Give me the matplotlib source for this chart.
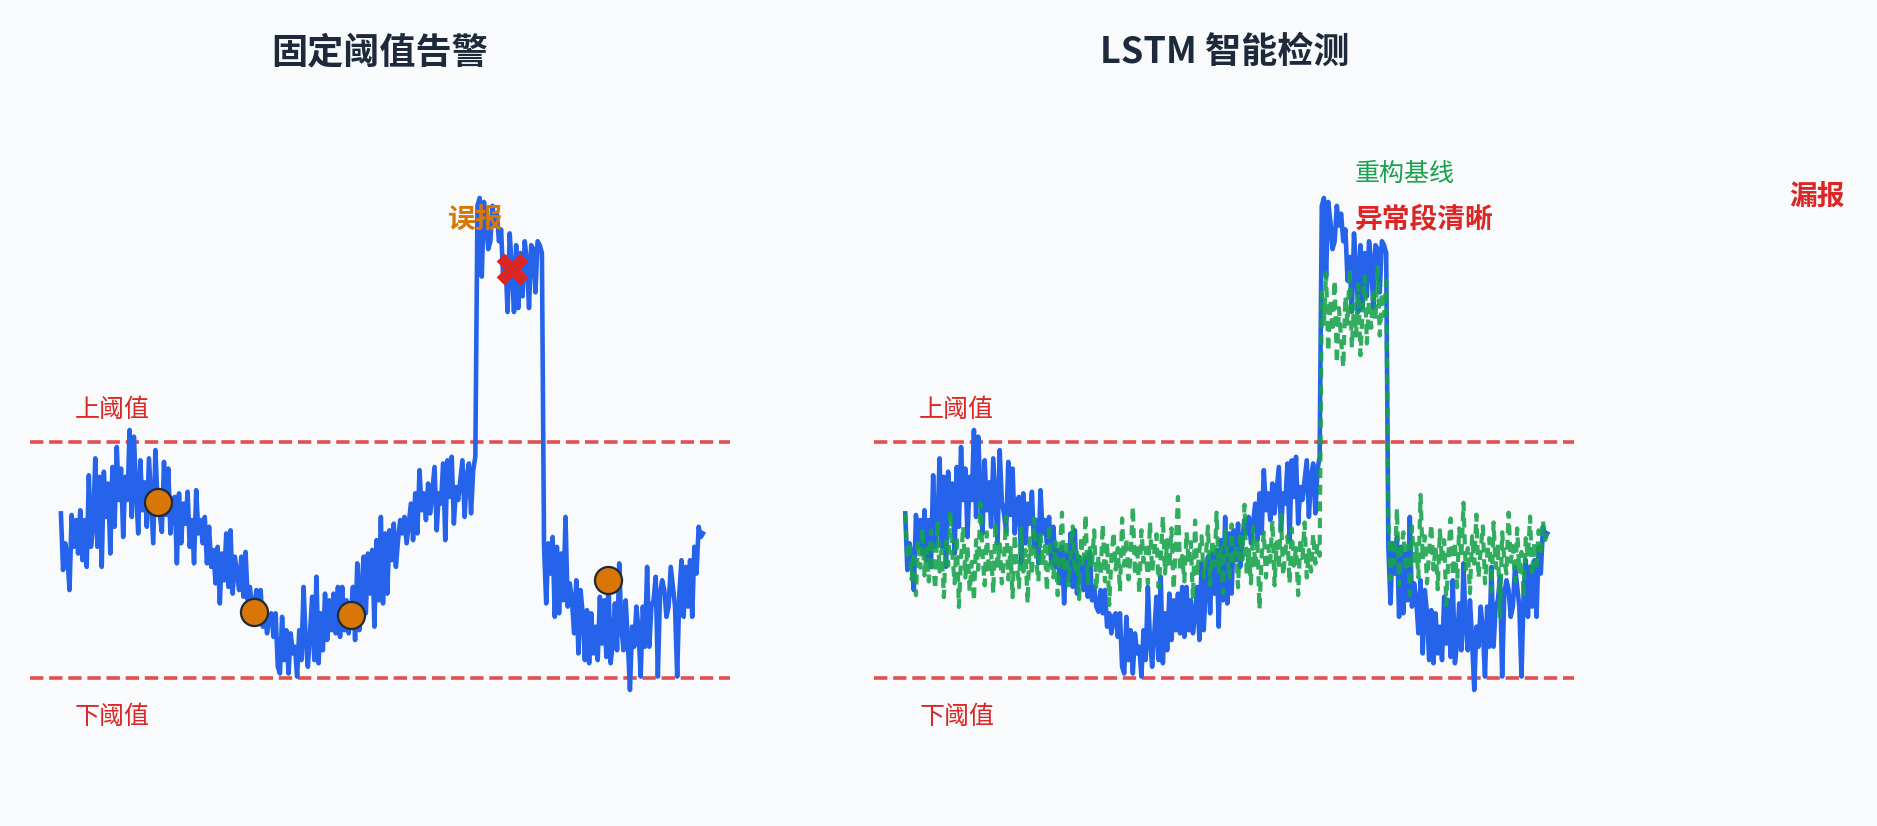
import numpy as np
import matplotlib
matplotlib.use('Agg')
import matplotlib.pyplot as plt

plt.rcParams['font.family'] = ['Noto Sans CJK SC', 'DejaVu Sans']

BG = '#f8fafc'
BLUE = '#2563eb'
GREEN = '#16a34a'
RED = '#dc2626'
ORANGE = '#d97706'
DARK = '#1e293b'

upper, lower = 80, 20

# observed metric (same series in both panels)
signal = np.array([
    61.8, 47.4, 54.2, 50.8, 42.3, 61.4, 53.3, 60.1, 51.6, 62.6,
    49.9, 60.1, 48.2, 71.5, 53.3, 58.4, 75.8, 53.3, 71.1, 48.2,
    72.4, 60.9, 69.4, 51.6, 73.6, 58.4, 78.7, 65.2, 73.2, 55.8,
    71.1, 65.2, 83.0, 60.9, 81.3, 67.7, 56.7, 75.3, 62.6, 69.7,
    58.4, 75.8, 65.2, 54.2, 77.9, 64.7, 61.8, 57.1, 74.9, 61.4,
    73.2, 56.7, 65.2, 66.0, 49.1, 66.9, 54.2, 64.3, 59.2, 67.3,
    53.3, 60.1, 49.1, 67.7, 56.7, 60.1, 54.2, 60.9, 49.1, 58.4,
    48.2, 52.5, 44.0, 53.3, 38.9, 51.6, 44.8, 56.7, 43.1, 57.5,
    41.4, 50.8, 46.5, 42.3, 50.8, 40.6, 52.0, 39.7, 43.1, 38.1,
    36.8, 42.3, 36.4, 42.3, 33.0, 36.4, 31.3, 35.5, 36.4, 30.4,
    36.4, 22.8, 21.1, 35.5, 24.5, 32.1, 21.1, 31.3, 26.2, 27.9,
    20.3, 32.1, 24.5, 43.1, 29.6, 22.8, 31.3, 40.6, 24.5, 45.7,
    23.7, 36.4, 27.0, 41.4, 29.6, 39.7, 32.1, 41.4, 31.3, 43.1,
    30.4, 43.1, 32.1, 39.7, 31.3, 36.0, 43.1, 29.6, 49.1, 32.1,
    43.1, 50.8, 36.4, 51.6, 41.4, 52.5, 33.0, 55.0, 39.7, 60.9,
    38.9, 56.7, 41.4, 57.5, 49.9, 59.2, 48.2, 55.0, 60.1, 56.7,
    60.9, 54.2, 59.2, 64.3, 55.0, 66.9, 56.7, 72.8, 62.6, 66.9,
    60.1, 69.4, 61.8, 67.7, 73.6, 57.5, 66.9, 64.3, 74.5, 55.0,
    75.3, 66.0, 76.2, 59.2, 68.5, 65.2, 70.3, 75.3, 60.9, 71.1,
    74.5, 61.8, 72.8, 76.2,
    140, 142, 122, 141, 136, 129, 131, 140, 135, 138,
    131, 134, 121, 127, 113, 133, 124, 113, 130, 114,
    128, 117, 131, 126, 114, 130, 129, 118, 131, 130, 128,
    53.3, 38.9, 54.2, 46.5, 55.8, 35.5, 53.3, 36.4, 51.6, 39.7,
    60.9, 38.1, 44.0, 39.7, 31.3, 44.8, 26.2, 42.3, 36.4, 24.5,
    37.2, 23.7, 36.4, 26.2, 33.0, 24.5, 40.6, 28.7, 39.7, 25.3,
    44.8, 23.7, 28.7, 38.9, 27.0, 49.1, 33.0, 27.0, 39.7, 29.6,
    16.9, 33.0, 27.9, 38.1, 32.1, 20.3, 38.1, 27.9, 48.2, 27.9,
    38.1, 39.7, 45.7, 20.3, 41.4, 44.8, 42.3, 35.5, 38.1, 48.2,
    43.1, 38.1, 20.3, 41.4, 49.9, 35.5, 48.2, 38.1, 49.9, 35.5,
    53.3, 46.5, 58.4, 55.8, 56.7,
])

# LSTM reconstruction baseline
recon = np.array([
    61.8, 50.0, 54.5, 45.0, 52.0, 41.0, 55.0, 48.0, 58.0, 46.0,
    53.0, 44.5, 57.5, 49.0, 42.5, 60.0, 47.0, 52.5, 40.5, 55.5,
    48.5, 62.5, 51.0, 44.0, 56.0, 38.0, 50.5, 58.5, 45.5, 53.5,
    42.0, 49.5, 39.5, 55.0, 47.5, 64.5, 51.5, 43.5, 57.0, 46.5,
    52.0, 41.5, 59.5, 48.0, 54.0, 44.0, 50.0, 61.0, 45.0, 53.0,
    40.5, 56.5, 49.0, 43.0, 58.0, 47.0, 52.5, 39.0, 55.5, 46.0,
    60.5, 50.0, 44.5, 57.0, 48.5, 53.5, 42.0, 59.0, 49.5, 45.5,
    54.5, 41.0, 51.5, 62.0, 47.0, 55.0, 43.5, 50.5, 58.5, 46.5,
    52.0, 40.0, 56.0, 48.0, 61.5, 44.0, 53.0, 49.0, 57.5, 42.5,
    51.0, 46.0, 59.0, 44.5, 54.5, 38.5, 50.0, 57.0, 47.5, 53.0,
    42.0, 60.5, 48.5, 55.5, 45.0, 51.5, 63.5, 46.0, 54.0, 41.5,
    57.5, 49.5, 53.0, 44.0, 59.5, 47.0, 52.0, 56.5, 43.0, 50.5,
    61.0, 46.5, 55.0, 48.0, 58.0, 42.5, 53.5, 66.0, 47.5, 51.0,
    44.5, 57.0, 49.0, 54.5, 40.0, 60.0, 46.0, 52.5, 56.0, 45.5,
    50.5, 58.5, 43.5, 55.0, 48.5, 62.0, 47.0, 53.0, 41.5, 57.5,
    51.5, 45.0, 59.0, 49.0, 54.0, 43.0, 56.5, 50.0, 64.0, 46.5,
    52.5, 44.0, 58.5, 48.0, 55.5, 37.5, 51.0, 57.0, 45.5, 53.5,
    49.5, 60.0, 43.5, 54.5, 47.5, 61.5, 46.0, 52.0, 56.0, 44.0,
    58.0, 48.5, 53.0, 41.0, 55.5, 50.5, 59.5, 45.5, 52.5, 47.0,
    56.5, 49.0, 54.0, 51.0,
    118, 110, 123, 103, 116, 108, 121, 100, 114, 106,
    99, 117, 110, 124, 104, 115, 107, 120, 102, 113,
    122, 105, 116, 109, 119, 111, 125, 107, 118, 112, 121,
    60.0, 45.0, 55.5, 49.0, 63.0, 43.5, 52.5, 57.0, 47.0, 53.5,
    41.0, 58.5, 48.5, 54.0, 45.5, 66.5, 50.0, 56.0, 44.0, 52.0,
    59.0, 47.5, 53.5, 42.5, 57.5, 49.5, 55.0, 38.5, 51.5, 60.5,
    46.0, 54.5, 43.0, 58.0, 50.5, 64.5, 47.5, 53.0, 41.5, 56.0,
    49.0, 61.5, 45.5, 52.5, 58.5, 44.0, 51.0, 55.5, 42.0, 59.5,
    48.0, 54.0, 35.5, 57.0, 50.0, 46.5, 62.0, 49.5, 53.5, 44.5,
    58.0, 47.0, 52.0, 40.5, 55.5, 50.5, 61.0, 46.0, 54.5, 48.5,
    57.5, 51.0, 60.0, 55.0, 56.7,
])

miss_idx = [45, 90, 135, 255]   # small deviations inside the band
false_idx = 210                 # point flagged by the fixed threshold

x = np.arange(len(signal))

fig = plt.figure(figsize=(18.77, 8.26), dpi=100, facecolor=BG)
ax1 = fig.add_axes([30 / 1877, 0.0842, 700 / 1877, 0.7904])
ax2 = fig.add_axes([874.3 / 1877, 0.0842, 700 / 1877, 0.7904])

for ax in (ax1, ax2):
    ax.set_facecolor(BG)
    ax.axhline(upper, color=RED, linestyle='--', linewidth=2.6, alpha=0.8)
    ax.axhline(lower, color=RED, linestyle='--', linewidth=2.6, alpha=0.8)
    ax.text(6.5, upper + 8.2, '上阈值', color=RED, fontsize=18, va='center', ha='left')
    ax.text(6.5, lower - 10, '下阈值', color=RED, fontsize=18, va='center', ha='left')
    ax.plot(x, signal, color=BLUE, linewidth=3.3)
    ax.set_xlim(-14.4, 311.6)
    ax.set_ylim(0, 166)
    ax.axis('off')

# left: fixed threshold
ax1.set_title('固定阈值告警', fontsize=26, fontweight='bold', color=DARK, pad=29)
ax1.scatter(miss_idx, signal[miss_idx], s=380, color=ORANGE, edgecolor='#1f2937',
            linewidth=1.6, zorder=5)
ax1.scatter([false_idx], [signal[false_idx]], s=520, marker='X', color=RED,
            linewidth=0, zorder=6)
ax1.text(193, 136.4, '误报', color=ORANGE, fontsize=20, fontweight='bold',
         ha='center', va='center')

# right: LSTM
ax2.set_title('LSTM 智能检测', fontsize=26, fontweight='bold', color=DARK, pad=29)
ax2.plot(x, recon, color=GREEN, linestyle=(0, (2.4, 1.6)), linewidth=3, alpha=0.88)
ax2.text(209.3, 148.2, '重构基线', color=GREEN, fontsize=18, ha='left', va='center')
ax2.text(209.3, 136.4, '异常段清晰', color=RED, fontsize=20, fontweight='bold',
         ha='left', va='center')
ax2.text(424.7, 142.2, '漏报', color=RED, fontsize=20, fontweight='bold',
         ha='center', va='center')

fig.savefig('out.png', dpi=100, facecolor=BG)
